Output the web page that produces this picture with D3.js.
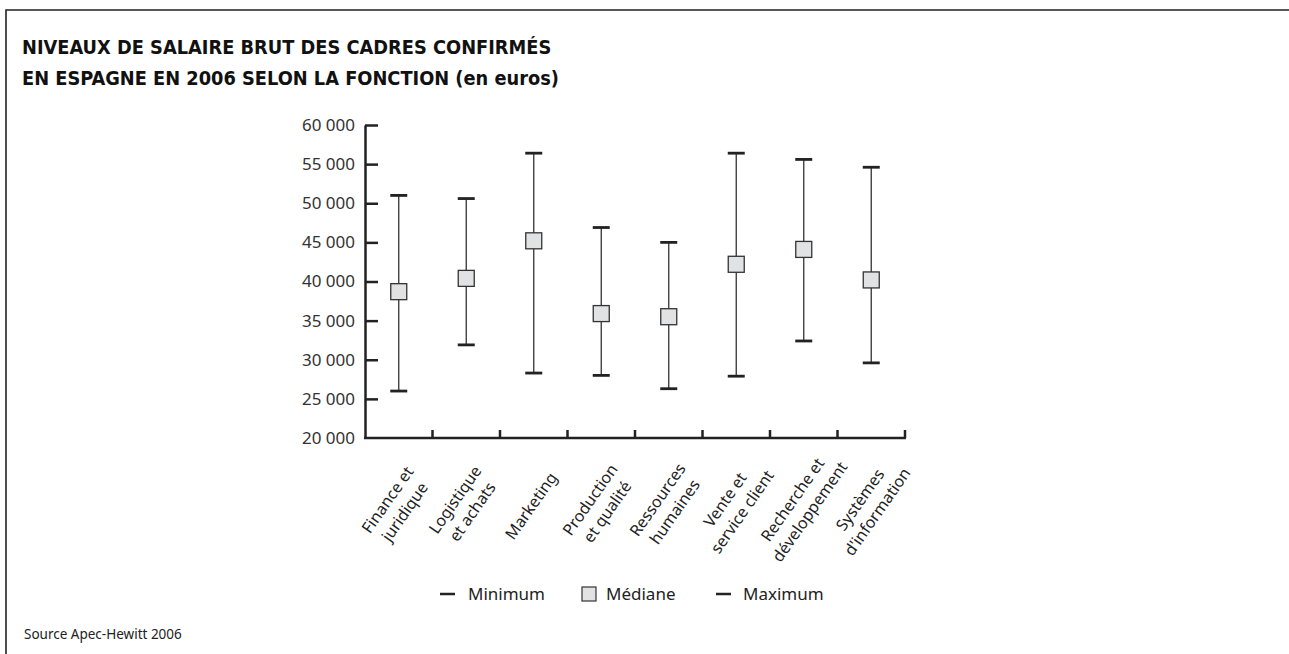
<!DOCTYPE html>
<html>
<head>
<meta charset="utf-8">
<script src="https://cdn.jsdelivr.net/npm/d3@7"></script>
<style>
  body { margin: 0; background: #fff; }
  svg { display: block; }
  .tick text { fill: #333; }
</style>
</head>
<body>
<script>
// fonctions et niveaux de salaire (euros)
const categories = [
  "Finance et|juridique",
  "Logistique|et achats",
  "Marketing",
  "Production|et qualité",
  "Ressources|humaines",
  "Vente et|service client",
  "Recherche et|développement",
  "Systèmes|d'information"
];
const minimum = [26000, 31900, 28300, 28000, 26300, 27900, 32400, 29600];
const mediane = [38700, 40400, 45200, 35900, 35500, 42200, 44100, 40200];
const maximum = [51000, 50600, 56400, 46900, 45000, 56400, 55600, 54600];
const yTicks = [20000, 25000, 30000, 35000, 40000, 45000, 50000, 55000, 60000];

const w = 1289, h = 654;
const plotLeft = 365, plotRight = 905, plotTop = 125, plotBottom = 438;
const font = "'Noto Sans', 'Open Sans', sans-serif";

const data = categories.map((c, i) => ({cat: c, min: minimum[i], med: mediane[i], max: maximum[i]}));

const svg = d3.select("body").append("svg")
  .attr("width", w)
  .attr("height", h);

// cadre
svg.append("path")
  .attr("d", "M6," + h + "V10H" + w)
  .attr("fill", "none")
  .attr("stroke", "#222")
  .attr("stroke-width", 1.6);

svg.append("text")
  .attr("x", 22)
  .attr("y", 54)
  .attr("font-family", "'DejaVu Sans Condensed', 'Liberation Sans Narrow', sans-serif")
  .attr("font-weight", "bold")
  .attr("font-size", 19.8)
  .attr("fill", "#111")
  .selectAll("tspan")
  .data(["NIVEAUX DE SALAIRE BRUT DES CADRES CONFIRMÉS", "EN ESPAGNE EN 2006 SELON LA FONCTION (en euros)"])
  .enter().append("tspan")
  .attr("x", 22)
  .attr("dy", (d, i) => i ? 31 : 0)
  .text(d => d);

const yScale = d3.scaleLinear().domain([20000, 60000]).range([plotBottom, plotTop]);
const xScale = d3.scaleBand().domain(categories).range([plotLeft, plotRight]);

const fr = d3.formatLocale({decimal: ",", thousands: " ", grouping: [3], currency: ["", " €"]});

const yAxis = svg.append("g")
  .attr("transform", "translate(" + plotLeft + ",0)")
  .call(d3.axisLeft(yScale).tickValues(yTicks).tickFormat(fr.format(",")).tickSize(-13).tickSizeOuter(0).tickPadding(10));
yAxis.select(".domain").attr("stroke", "#222").attr("stroke-width", 2.5);
yAxis.selectAll(".tick line").attr("stroke", "#222").attr("stroke-width", 2.5);
yAxis.selectAll(".tick text").attr("font-family", font).attr("font-size", 17);
yAxis.selectAll(".tick").filter(d => d === 20000).select("line").remove();

// axe horizontal
const xAxis = svg.append("g");
xAxis.append("line")
  .attr("x1", plotLeft - 1).attr("x2", plotRight + 1)
  .attr("y1", plotBottom).attr("y2", plotBottom)
  .attr("stroke", "#222").attr("stroke-width", 2.5);
xAxis.selectAll(".xtick")
  .data(categories)
  .enter().append("line")
  .attr("class", "xtick")
  .attr("x1", d => xScale(d) + xScale.bandwidth())
  .attr("x2", d => xScale(d) + xScale.bandwidth())
  .attr("y1", plotBottom)
  .attr("y2", plotBottom - 8)
  .attr("stroke", "#222").attr("stroke-width", 2.5);

// libellés inclinés, centrés sous chaque fonction
const lineH = 21;
const labels = svg.selectAll(".xlabel")
  .data(categories)
  .enter().append("text")
  .attr("class", "xlabel")
  .attr("transform", d => "translate(" + (xScale(d) + xScale.bandwidth() / 2 + 2) + "," + (plotBottom + 71) + ")rotate(-55)")
  .attr("text-anchor", "middle")
  .attr("font-family", font)
  .attr("font-size", 16)
  .attr("fill", "#222");
labels.each(function(d) {
  const lines = d.split("|");
  d3.select(this).selectAll("tspan")
    .data(lines)
    .enter().append("tspan")
    .attr("x", 0)
    .attr("y", (t, i) => (i - (lines.length - 1) / 2) * lineH)
    .text(t => t);
});

const cx = d => xScale(d.cat) + xScale.bandwidth() / 2;

// moustaches
const g = svg.append("g");
g.selectAll(".whisker")
  .data(data)
  .enter().append("line")
  .attr("x1", cx).attr("x2", cx)
  .attr("y1", d => yScale(d.max))
  .attr("y2", d => yScale(d.min))
  .attr("stroke", "#333")
  .attr("stroke-width", 1.3);

g.selectAll(".capMax")
  .data(data)
  .enter().append("line")
  .attr("x1", d => cx(d) - 8.5).attr("x2", d => cx(d) + 8.5)
  .attr("y1", d => yScale(d.max)).attr("y2", d => yScale(d.max))
  .attr("stroke", "#222").attr("stroke-width", 2.8);

g.selectAll(".capMin")
  .data(data)
  .enter().append("line")
  .attr("x1", d => cx(d) - 8.5).attr("x2", d => cx(d) + 8.5)
  .attr("y1", d => yScale(d.min)).attr("y2", d => yScale(d.min))
  .attr("stroke", "#222").attr("stroke-width", 2.8);

g.selectAll(".med")
  .data(data)
  .enter().append("rect")
  .attr("x", d => cx(d) - 8)
  .attr("y", d => yScale(d.med) - 8)
  .attr("width", 16)
  .attr("height", 16)
  .attr("fill", "#e1e2e3")
  .attr("stroke", "#333")
  .attr("stroke-width", 1.3);

// légende
const legend = svg.append("g").attr("font-family", font).attr("font-size", 17).attr("fill", "#222");
legend.append("line").attr("x1", 440).attr("x2", 455).attr("y1", 594).attr("y2", 594).attr("stroke", "#222").attr("stroke-width", 2.5);
legend.append("text").attr("x", 468).attr("y", 600).text("Minimum");
legend.append("rect").attr("x", 582).attr("y", 587).attr("width", 14).attr("height", 14)
  .attr("fill", "#e1e2e3").attr("stroke", "#333").attr("stroke-width", 1.2);
legend.append("text").attr("x", 606).attr("y", 600).text("Médiane");
legend.append("line").attr("x1", 716).attr("x2", 731).attr("y1", 594).attr("y2", 594).attr("stroke", "#222").attr("stroke-width", 2.5);
legend.append("text").attr("x", 743).attr("y", 600).text("Maximum");

svg.append("text")
  .attr("x", 24)
  .attr("y", 639)
  .attr("font-family", font)
  .attr("font-size", 13.5)
  .attr("fill", "#222")
  .text("Source Apec-Hewitt 2006");
</script>
</body>
</html>
